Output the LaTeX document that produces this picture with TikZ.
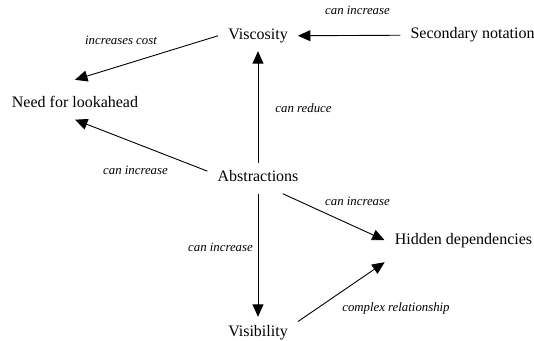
\documentclass[tikz,border=0pt]{standalone}
\usepackage{fontspec}
\setmainfont{Liberation Serif}
\usetikzlibrary{arrows.meta}

\begin{document}
\begin{tikzpicture}[x=1pt, y=1pt,
        concept/.style={anchor=base, inner xsep=10pt, inner ysep=8pt,
                text height=11pt, text depth=3.5pt,
                font=\fontsize{16}{19}\selectfont},
        relLabel/.style={anchor=base, inner sep=0pt,
                font=\fontsize{12.8}{15}\selectfont\itshape},
        relArrow/.style={-{Triangle[length=12.5pt,width=11pt]}, line width=0.9pt}]
        \useasboundingbox (0,0) rectangle (534,340);

        % Concepts
        \node[concept] (viscosity) at (258,300.5) {Viscosity};
        \node[concept] (secondary) at (472.5,301) {Secondary notation};
        \node[concept] (lookahead) at (75,232) {Need for lookahead};
        \node[concept] (abstractions) at (258,158) {Abstractions};
        \node[concept, inner ysep=14.5pt] (hidden) at (463.5,96) {Hidden dependencies};
        \node[concept] (visibility) at (258,4) {Visibility};

        % Relations between the concepts
        \draw[relArrow] (secondary.west) -- (viscosity.east);
        \draw[relArrow] (viscosity.west) -- ([yshift=9pt]lookahead.north);
        \draw[relArrow] (abstractions.172) -- (lookahead.south);
        \draw[relArrow] (abstractions.north) -- (viscosity.south);
        \draw[relArrow] (abstractions.south) -- (visibility.north);
        \draw[relArrow] (abstractions.-32) -- (hidden.west);
        \draw[relArrow] (visibility.15) -- (hidden.south west);

        % Labels of the relations
        \node[relLabel] (lblSecondary) at (357.5,325) {can increase};
        \node[relLabel] (lblCost) at (121,295) {increases cost};
        \node[relLabel] (lblReduce) at (303.5,227) {can reduce};
        \node[relLabel] (lblLookahead) at (135.5,165) {can increase};
        \node[relLabel] (lblHidden) at (357.5,135) {can increase};
        \node[relLabel] (lblVisibility) at (220.5,89) {can increase};
        \node[relLabel] (lblComplex) at (396,29) {complex relationship};

\end{tikzpicture}
\end{document}
